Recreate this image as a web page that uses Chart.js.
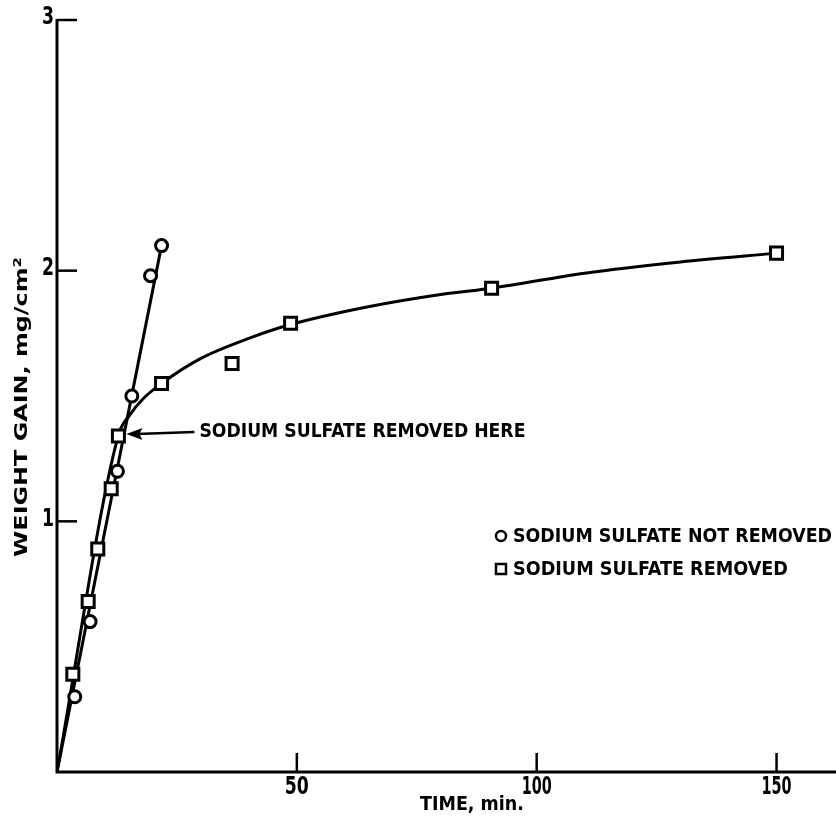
<!DOCTYPE html>
<html>
<head>
<meta charset="utf-8">
<script src="https://cdn.jsdelivr.net/npm/chart.js@4.4.1/dist/chart.umd.min.js"></script>
<style>
html,body{margin:0;padding:0;background:#fff;}
#wrap{width:836px;height:829px;position:relative;}
</style>
</head>
<body>
<div id="wrap"><canvas id="c" width="836" height="829"></canvas></div>
<script>
// ---- data ----
const timeNotRemoved = [3.7, 6.9, 12.6, 15.6, 19.5, 21.8];
const gainNotRemoved = [0.30, 0.60, 1.20, 1.50, 1.98, 2.10];
const timeRemoved = [3.3, 6.5, 8.5, 11.3, 12.8, 21.8, 36.5, 48.7, 90.6, 150];
const gainRemoved = [0.39, 0.68, 0.89, 1.13, 1.34, 1.55, 1.63, 1.79, 1.93, 2.07];
// drawn fit lines
const fitTimeNotRemoved = [0, 22.0];
const fitGainNotRemoved = [0, 2.12];
const fitTimeRemoved = [0, 12.8, 15, 18, 21.8, 30, 40, 48.7, 64.6, 80, 90.6, 110, 130, 150];
const fitGainRemoved = [0, 1.344, 1.42, 1.49, 1.55, 1.65, 1.73, 1.785, 1.855, 1.905, 1.93, 1.99, 2.035, 2.07];
const xTicks = [50, 100, 150];
const yTicks = [1, 2, 3];
const removalTime = 12.8, removalGain = 1.344;
const legendLabels = ['SODIUM SULFATE NOT REMOVED', 'SODIUM SULFATE REMOVED'];
const noteText = 'SODIUM SULFATE REMOVED HERE';
const xTitle = 'TIME, min.';
const yTitle = 'WEIGHT GAIN, mg/cm²';

const FONT = "'Liberation Sans Narrow','DejaVu Sans Condensed','Liberation Sans',Arial,sans-serif";
const pts = (xs, ys) => xs.map((x, i) => ({x: x, y: ys[i]}));

function fitText(ctx, text, x, y, w, size, align) {
  ctx.save();
  ctx.font = 'bold ' + size + 'px ' + FONT;
  const m = ctx.measureText(text).width;
  ctx.translate(x, y);
  if (w) ctx.scale(w / m, 1);
  ctx.textAlign = align || 'left';
  ctx.textBaseline = 'middle';
  ctx.fillStyle = '#000';
  ctx.fillText(text, 0, 0);
  ctx.restore();
}

const decor = {
  id: 'decor',
  afterDatasetsDraw(chart) {
    const ctx = chart.ctx, xs = chart.scales.x, ys = chart.scales.y, a = chart.chartArea;
    ctx.save();
    ctx.strokeStyle = '#000';
    ctx.lineWidth = 3;
    ctx.lineCap = 'butt';
    // axes
    ctx.beginPath();
    ctx.moveTo(a.left, ys.getPixelForValue(3) - 1);
    ctx.lineTo(a.left, a.bottom);
    ctx.lineTo(836, a.bottom);
    ctx.stroke();
    // inward ticks + labels
    ctx.lineWidth = 2.5;
    xTicks.forEach(v => {
      const px = xs.getPixelForValue(v);
      ctx.beginPath(); ctx.moveTo(px, a.bottom); ctx.lineTo(px, a.bottom - 19); ctx.stroke();
      fitText(ctx, String(v), px, a.bottom + 16, v >= 100 ? 30 : 24, 24, 'center');
    });
    yTicks.forEach(v => {
      const py = ys.getPixelForValue(v);
      ctx.beginPath(); ctx.moveTo(a.left, py); ctx.lineTo(a.left + 20, py); ctx.stroke();
      fitText(ctx, String(v), a.left - 3, py - 2, 12, 24, 'right');
    });
    // annotation arrow
    const tx = xs.getPixelForValue(removalTime) + 8;
    const ty = ys.getPixelForValue(removalGain) - 1;
    ctx.lineWidth = 2.5;
    ctx.beginPath(); ctx.moveTo(tx + 10, ty); ctx.lineTo(tx + 68, ty - 2); ctx.stroke();
    ctx.fillStyle = '#000';
    ctx.beginPath();
    ctx.moveTo(tx, ty);
    ctx.lineTo(tx + 16, ty - 6);
    ctx.lineTo(tx + 13, ty);
    ctx.lineTo(tx + 16, ty + 6);
    ctx.closePath();
    ctx.fill();
    fitText(ctx, noteText, tx + 73, ty - 2, 326, 20, 'left');
    // legend
    ctx.lineWidth = 2.5;
    ctx.fillStyle = '#fff';
    ctx.beginPath(); ctx.arc(501, 536, 5, 0, Math.PI * 2); ctx.fill(); ctx.stroke();
    ctx.fillRect(496, 564, 10, 10); ctx.strokeRect(496, 564, 10, 10);
    fitText(ctx, legendLabels[0], 513, 537, 319, 20, 'left');
    fitText(ctx, legendLabels[1], 513, 570, 275, 20, 'left');
    // axis titles
    fitText(ctx, xTitle, 472, 805, 104, 19, 'center');
    ctx.save();
    ctx.translate(22, 407);
    ctx.rotate(-Math.PI / 2);
    fitText(ctx, yTitle, 0, 0, 300, 18, 'center');
    ctx.restore();
    ctx.restore();
  }
};

new Chart(document.getElementById('c'), {
  type: 'scatter',
  data: {
    datasets: [
      {label: 'fitA', data: pts(fitTimeNotRemoved, fitGainNotRemoved), showLine: true, pointRadius: 0,
       borderColor: '#000', borderWidth: 3, order: 2},
      {label: 'fitB', data: pts(fitTimeRemoved, fitGainRemoved), showLine: true, pointRadius: 0,
       borderColor: '#000', borderWidth: 3, cubicInterpolationMode: 'monotone', order: 2},
      {label: legendLabels[0], data: pts(timeNotRemoved, gainNotRemoved), pointStyle: 'circle', pointRadius: 6,
       pointBackgroundColor: '#fff', pointBorderColor: '#000', pointBorderWidth: 3, order: 0},
      {label: legendLabels[1], data: pts(timeRemoved, gainRemoved), pointStyle: 'rect', pointRadius: 8.5,
       pointBackgroundColor: '#fff', pointBorderColor: '#000', pointBorderWidth: 3, order: 0}
    ]
  },
  options: {
    responsive: false,
    animation: false,
    devicePixelRatio: 1,
    layout: {padding: {top: 20, right: 0, left: 0, bottom: 0}},
    plugins: {legend: {display: false}, tooltip: {enabled: false}, title: {display: false}},
    scales: {
      x: {
        type: 'linear', min: 0, max: 160,
        afterFit: s => { s.height = 57; },
        grid: {display: false}, border: {display: false},
        ticks: {display: false}
      },
      y: {
        type: 'linear', min: 0, max: 3,
        afterFit: s => { s.width = 57; },
        grid: {display: false}, border: {display: false},
        ticks: {display: false}
      }
    }
  },
  plugins: [decor]
});
</script>
</body>
</html>
